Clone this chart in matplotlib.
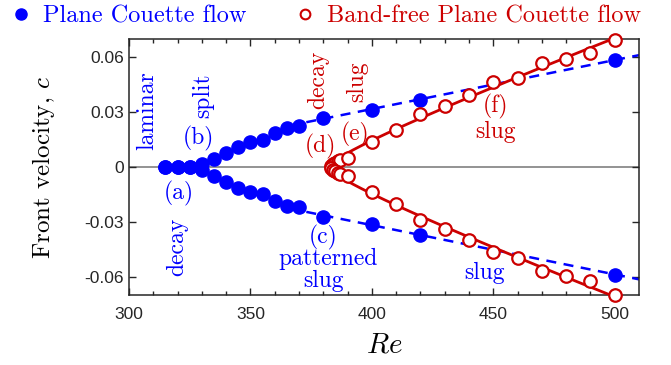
import numpy as np
import matplotlib
matplotlib.use('Agg')
import matplotlib.pyplot as plt
from matplotlib.lines import Line2D

# Plane Couette flow (filled blue)
blue_re = [315, 320, 325, 330, 335, 340, 345, 350, 355, 360, 365, 370, 380, 400, 420, 500]
blue_up = [0, 0, 0, 0.0015, 0.0045, 0.0078, 0.0111, 0.0138, 0.0147, 0.0184, 0.0211, 0.0224,
           0.0268, 0.0313, 0.0369, 0.0586]
blue_lo = [0, 0, 0, -0.0015, -0.0047, -0.0080, -0.0116, -0.0138, -0.0147, -0.0188, -0.0212, -0.0220,
           -0.0271, -0.0311, -0.0371, -0.0589]

# Band-free plane Couette flow (open red)
red_re = [383, 384, 385, 386, 387, 390, 400, 410, 420, 430, 440, 450, 460, 470, 480, 490, 500]
red_up = [0.0003, 0.0015, 0.0024, 0.0033, 0.0038, 0.0051, 0.0134, 0.0203, 0.0288, 0.0334,
          0.0396, 0.0465, 0.0487, 0.0566, 0.0589, 0.0624, 0.0697]
red_lo = [-0.0003, -0.0015, -0.0024, -0.0033, -0.0038, -0.0047, -0.0135, -0.0204, -0.0289, -0.0340,
          -0.0402, -0.0466, -0.0495, -0.0571, -0.0595, -0.0626, -0.0698]

xticks = [300, 350, 400, 450, 500]
yticks = [-0.06, -0.03, 0, 0.03, 0.06]
ytick_labels = ['-0.06', '-0.03', '0', '0.03', '0.06']

BLUE = '#0000ff'
RED = '#cc0000'

plt.rcParams['font.family'] = ['cmr10', 'DejaVu Serif']
plt.rcParams['mathtext.fontset'] = 'cm'
plt.rcParams['axes.formatter.use_mathtext'] = True


def fit_red(re, c, rc=382.5):
    # c = a*sqrt(Re-rc) + b*(Re-rc), least squares on the measured points
    re = np.asarray(re, float)
    c = np.asarray(c, float)
    d = re - rc
    A = np.column_stack([np.sqrt(d), d])
    coef = np.linalg.lstsq(A, c, rcond=None)[0]
    dd = np.linspace(0, 510 - rc, 300)
    return rc + dd, coef[0] * np.sqrt(dd) + coef[1] * dd


def fit_blue(re, c):
    re = np.asarray(re, float)
    c = np.asarray(c, float)
    m = re >= 380
    p = np.polyfit(re[m], c[m], 1)
    xx = np.array([373, 510])
    return xx, np.polyval(p, xx)


def main():
    fig = plt.figure(figsize=(6.71, 3.65), dpi=100)
    ax = fig.add_axes([0.1923, 0.1918, 0.760, 0.7014])

    ax.axhline(0, color='#808080', lw=1.2, zorder=1)

    for ys in (blue_up, blue_lo):
        xx, yy = fit_blue(blue_re, ys)
        ax.plot(xx, yy, color=BLUE, lw=1.8, dashes=(4, 3), zorder=2)
        ax.plot(blue_re, ys, 'o', color=BLUE, ms=9.5, mec=BLUE, zorder=3, clip_on=False)

    for ys in (red_up, red_lo):
        xx, yy = fit_red(red_re, ys)
        ax.plot(xx, yy, color=RED, lw=2, zorder=4)
        ax.plot(red_re, ys, 'o', ms=9, mfc='white', mec=RED, mew=1.6, zorder=5, clip_on=False)

    ax.set_xlim(300, 510)
    ax.set_ylim(-0.07, 0.07)
    ax.set_xticks(xticks)
    ax.set_xticks(np.arange(310, 510, 10), minor=True)
    ax.set_yticks(yticks)
    ax.set_yticklabels(ytick_labels)
    ax.set_xticklabels([str(t) for t in xticks])
    ax.tick_params(which='both', direction='in', top=True, right=True, color='#262626',
                   labelcolor='#262626', labelsize=12.5, width=1)
    ax.tick_params(which='major', length=5)
    ax.tick_params(which='minor', length=3)
    ax.tick_params(axis='x', pad=9)
    for lab in ax.get_xticklabels() + ax.get_yticklabels():
        lab.set_fontfamily('Liberation Sans')
    for s in ax.spines.values():
        s.set_color('#262626')
        s.set_linewidth(1.1)

    ax.set_ylabel('Front velocity, $c$', fontsize=18, labelpad=20)
    ax.set_xlabel('$Re$', fontsize=21, labelpad=7)

    fs = 17
    # annotations, blue
    ax.text(307.6, 0.031, 'laminar', color=BLUE, fontsize=fs, rotation=90, ha='center', va='center')
    ax.text(328.4, 0.0158, '(b)', color=BLUE, fontsize=fs, ha='center', va='center')
    ax.text(330.5, 0.039, 'split', color=BLUE, fontsize=fs, rotation=90, ha='center', va='center')
    ax.text(320.6, -0.0145, '(a)', color=BLUE, fontsize=fs, ha='center', va='center')
    ax.text(319.8, -0.0436, 'decay', color=BLUE, fontsize=fs, rotation=90, ha='center', va='center')
    ax.text(380, -0.0387, '(c)', color=BLUE, fontsize=fs, ha='center', va='center')
    ax.text(382, -0.0505, 'patterned', color=BLUE, fontsize=fs, ha='center', va='center')
    ax.text(380, -0.0622, 'slug', color=BLUE, fontsize=fs, ha='center', va='center')
    ax.text(446.5, -0.058, 'slug', color=BLUE, fontsize=fs, ha='center', va='center')
    # annotations, red
    ax.text(377.8, 0.0475, 'decay', color=RED, fontsize=fs, rotation=90, ha='center', va='center')
    ax.text(393.8, 0.0464, 'slug', color=RED, fontsize=fs, rotation=90, ha='center', va='center')
    ax.text(379, 0.011, '(d)', color=RED, fontsize=fs, ha='center', va='center')
    ax.text(393, 0.018, '(e)', color=RED, fontsize=fs, ha='center', va='center')
    ax.text(451, 0.0333, '(f)', color=RED, fontsize=fs, ha='center', va='center')
    ax.text(451, 0.019, 'slug', color=RED, fontsize=fs, ha='center', va='center')

    handles = [
        Line2D([], [], ls='none', marker='o', color=BLUE, ms=8),
        Line2D([], [], ls='none', marker='o', mfc='white', mec=RED, mew=1.5, ms=7),
    ]
    fig.legend(handles, ['Plane Couette flow', 'Band-free Plane Couette flow'],
               loc='center left', bbox_to_anchor=(0.0134, 0.956), ncol=2, frameon=False,
               borderpad=0, borderaxespad=0, handlelength=1, handletextpad=0.4,
               columnspacing=1.9, fontsize=17.5, labelcolor=[BLUE, RED])

    plt.savefig('out.png', dpi=100)
    plt.close()


if __name__ == '__main__':
    main()
